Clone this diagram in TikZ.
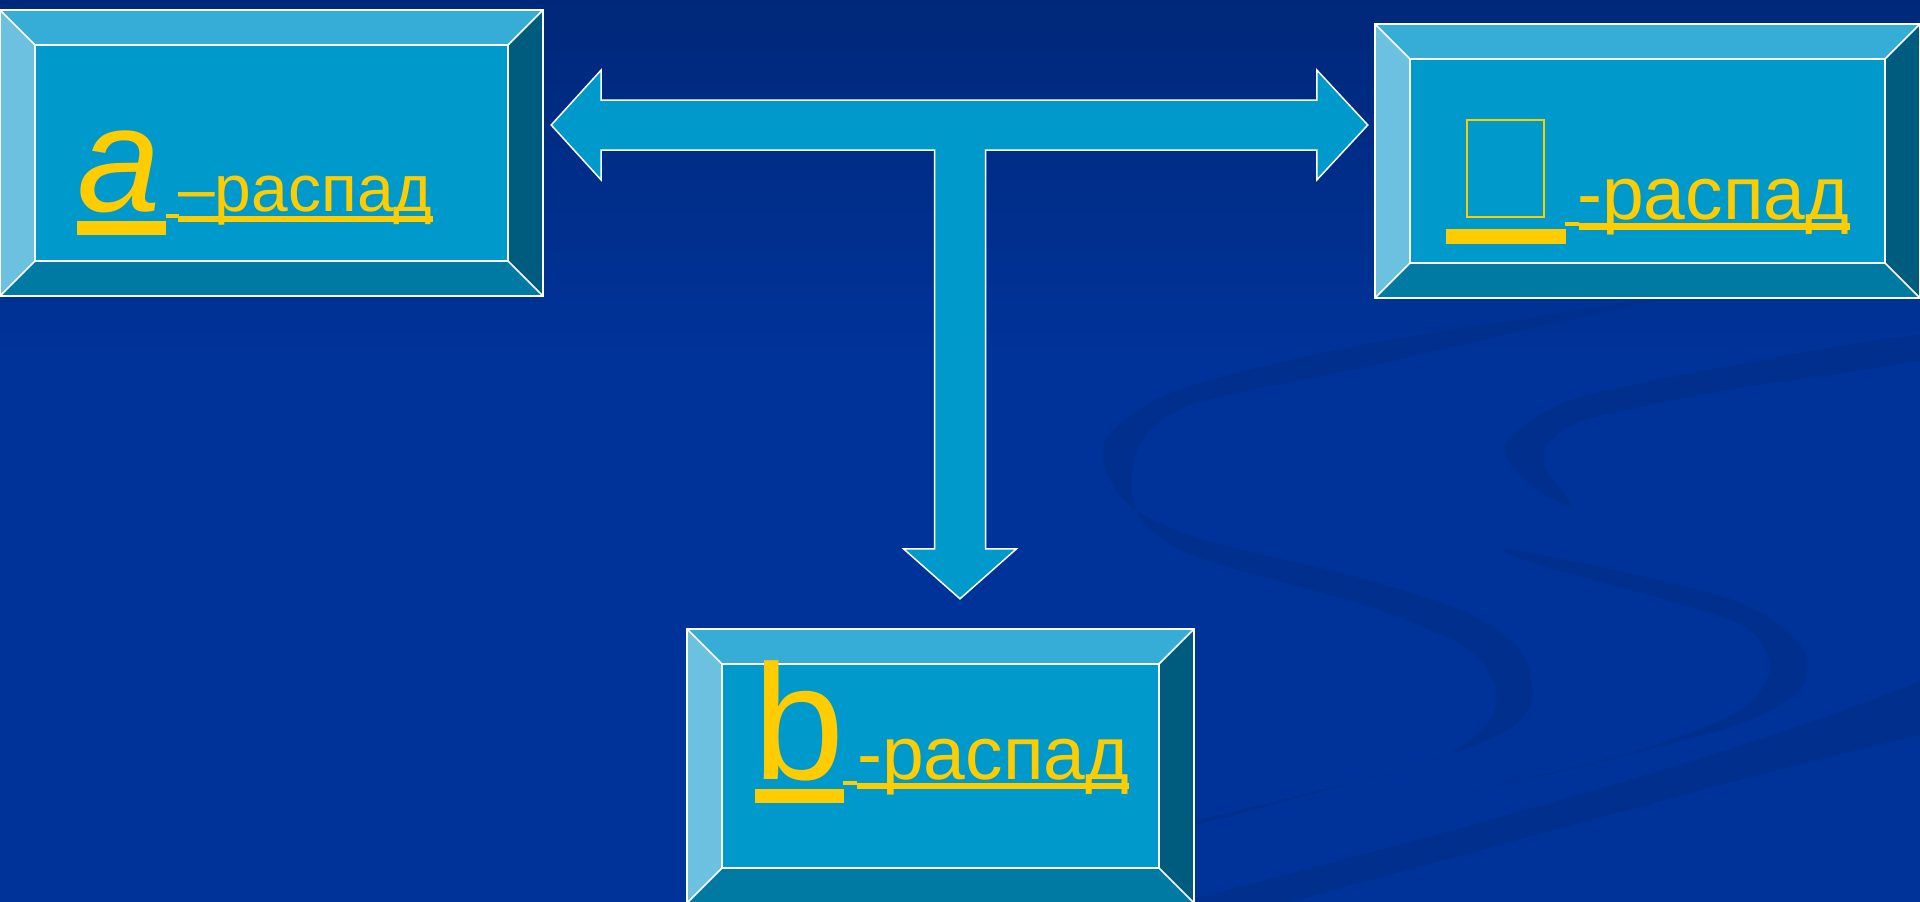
\documentclass[tikz,border=0pt]{standalone}
\usepackage{fontspec}
\setmainfont{Liberation Sans}
\usetikzlibrary{calc}
\definecolor{navytop}{HTML}{00287A}
\definecolor{navy}{HTML}{003399}
\definecolor{swirl}{HTML}{002F8E}
\definecolor{face}{HTML}{0099CC}
\definecolor{bevtop}{HTML}{36ADD6}
\definecolor{bevleft}{HTML}{6CC0E0}
\definecolor{bevright}{HTML}{005C7F}
\definecolor{bevbot}{HTML}{007AA3}
\definecolor{gold}{HTML}{FFCC00}

\tikzset{
  panel/.style={rectangle,inner sep=0pt},
  rim/.style={draw=white,line width=1.5pt},
  tarrow/.style={fill=face,draw=white,line width=1.5pt,line join=miter},
  big/.style={anchor=base west,inner sep=0pt,text=gold,font=\fontsize{164}{170}\selectfont},
  word/.style={anchor=base west,inner sep=0pt,text=gold,font=\fontsize{75}{80}\selectfont},
}

\begin{document}
\begin{tikzpicture}[x=1pt,y=-1pt]
    \useasboundingbox (0,0) rectangle (1920,902);
    \fill[navy] (0,0) rectangle (1920,902);
    \shade[top color=navytop,bottom color=navy] (0,0) rectangle (1920,360);
    % background swirls
    \fill[swirl] plot[smooth cycle] coordinates {(1650,300) (1361,345) (1178,390) (1110,433) (1105,467) (1131,507) (1205,540) (1361,578) (1466,612) (1520,650) (1532,700) (1499,735) (1400,770) (1280,800) (1150,832) (1200,824) (1320,792) (1440,758) (1490,720) (1495,685) (1470,650) (1420,626) (1361,604) (1205,560) (1150,530) (1133,500) (1134,460) (1150,430) (1200,402) (1361,368) (1560,322)};
    \fill[swirl] plot[smooth cycle] coordinates {(1920,335) (1728,366) (1571,400) (1508,440) (1513,467) (1545,495) (1572,506) (1560,488) (1545,468) (1547,445) (1585,420) (1728,390) (1920,360)};
    \fill[swirl] plot[smooth cycle] coordinates {(1518,550) (1728,598) (1801,645) (1800,690) (1740,724) (1600,762) (1470,792) (1500,784) (1640,750) (1740,710) (1770,670) (1752,632) (1700,610) (1530,562)};
    \fill[swirl] (1920,681) .. controls (1750,750) and (1500,820) .. (1180,902) -- (1290,902) .. controls (1550,832) and (1760,772) .. (1920,735) -- cycle;
    % the three panels
    \node[panel,minimum width=543,minimum height=286] (alpha) at (271.5,153) {};
    \node[panel,minimum width=545,minimum height=274] (gamma) at (1647.5,161) {};
    \node[panel,minimum width=507,minimum height=274] (beta) at (940.5,766) {};
    \foreach \n in {alpha,gamma,beta}
    {
      \coordinate (\n nw) at ($(\n.north west)+(35,35)$);
      \coordinate (\n ne) at ($(\n.north east)+(-35,35)$);
      \coordinate (\n sw) at ($(\n.south west)+(35,-35)$);
      \coordinate (\n se) at ($(\n.south east)+(-35,-35)$);
      \fill[bevtop] (\n.north west) -- (\n.north east) -- (\n ne) -- (\n nw) -- cycle;
      \fill[bevleft] (\n.north west) -- (\n nw) -- (\n sw) -- (\n.south west) -- cycle;
      \fill[bevright] (\n.north east) -- (\n.south east) -- (\n se) -- (\n ne) -- cycle;
      \fill[bevbot] (\n.south west) -- (\n sw) -- (\n se) -- (\n.south east) -- cycle;
      \fill[face] (\n nw) rectangle (\n se);
      \draw[rim] (\n.north west) rectangle (\n.south east);
      \draw[rim] (\n nw) rectangle (\n se);
      \draw[rim] (\n.north west) -- (\n nw) (\n.north east) -- (\n ne)
                 (\n.south west) -- (\n sw) (\n.south east) -- (\n se);
    }
    % T arrow
    \coordinate (hub) at (960,125);
    \coordinate (tipL) at ($(alpha.east |- hub)+(8,0)$);
    \coordinate (tipR) at ($(gamma.west |- hub)+(-7,0)$);
    \coordinate (tipB) at ($(hub |- beta.north)+(0,-30)$);
    \filldraw[tarrow] (tipL) -- ++(50,-55) -- ++(0,30) -- ($(tipR)+(-51,-25)$) -- ++(0,-30) -- (tipR)
      -- ++(-51,55) -- ++(0,-30) -- ($(hub)+(25.5,25)$) -- ($(tipB)+(25.5,-50)$) -- ++(31,0) -- (tipB)
      -- ++(-56.5,-50) -- ++(31,0) -- ($(hub)+(-25.5,25)$) -- ($(tipL)+(50,25)$) -- ++(0,30) -- cycle;
    % labels
    \node[big,font=\fontsize{150}{156}\selectfont\itshape] (la) at (77,211) {a};
    \node[word,font=\fontsize{66}{70}\selectfont] (ra) at (178,211) {–распад};
    \fill[gold] (77,221) rectangle (166,235);
    \fill[gold] (166,214) rectangle (179,218);
    \fill[gold] (178,216) rectangle (433,222);
    \node[draw=gold,line width=2pt,inner sep=0pt,minimum width=77,minimum height=97] (lg) at (1505.5,168.5) {};
    \node[word] (rg) at (1577,219) {-распад};
    \fill[gold] (1446,229) rectangle (1566,244);
    \fill[gold] (1565,222) rectangle (1579,226);
    \fill[gold] (1579,223) rectangle (1850,230);
    \node[big] (lb) at (753.5,779) {b};
    \node[word] (rb) at (857,779) {-распад};
    \fill[gold] (755,789) rectangle (844,803);
    \fill[gold] (843,781) rectangle (857,785);
    \fill[gold] (857,783) rectangle (1129,789);
\end{tikzpicture}
\end{document}
